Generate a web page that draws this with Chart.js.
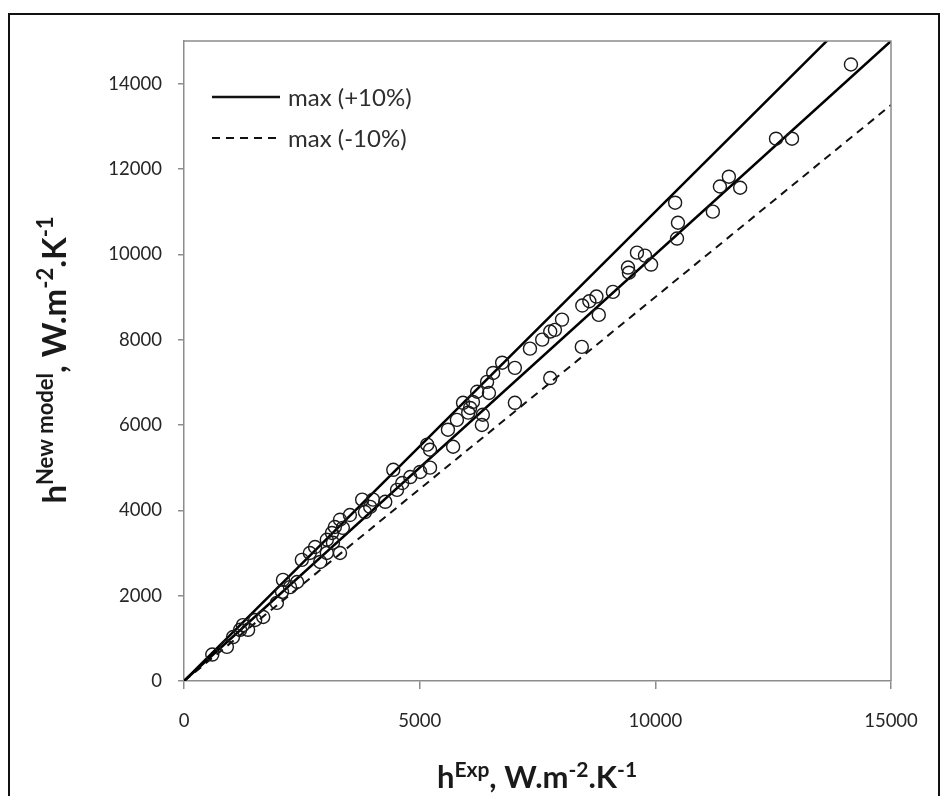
<!DOCTYPE html>
<html>
<head>
<meta charset="utf-8">
<script src="https://cdn.jsdelivr.net/npm/chart.js@4.4.1/dist/chart.umd.min.js"></script>
<style>
  html, body { margin: 0; padding: 0; background: #fff; overflow: hidden; }
  .wrap { position: relative; width: 945px; height: 796px; }
  .frame { position: absolute; left: 8px; top: 13px; width: 932px; height: 800px; border: 2.5px solid #111; box-sizing: border-box; }
  #myChart { position: absolute; left: 0; top: 0; }
</style>
</head>
<body>
<div class="wrap">
  <div class="frame"></div>
  <canvas id="myChart" width="945" height="796"></canvas>
</div>
<script>
// measured vs predicted heat transfer coefficient
const expX = [14150, 12560, 12900, 11560, 11370, 11800, 10420, 11220, 10480, 10460,
  9610, 9780, 9910, 9420, 9440, 9100, 8750, 8600, 8450, 8800,
  8440, 8020, 7870, 7770, 7600, 7340, 7020, 6750, 6560, 7770,
  6430, 6470, 6220, 6130, 7020, 6070, 5920, 6340, 6320, 6030,
  5790, 5600, 5710, 5160, 5220, 5220, 5010, 4440, 4800, 4630,
  4520, 3780, 4010, 4270, 3950, 3840, 3520, 3310, 3200, 3370,
  3140, 3030, 3160, 2780, 3310, 2670, 2500, 3030, 2890, 2100,
  2400, 2250, 2080, 1970, 1680, 1510, 1250, 1190, 1360, 1040,
  910, 600];
const modelY = [14450, 12710, 12710, 11820, 11590, 11560, 11210, 11000, 10740, 10370,
  10040, 9970, 9760, 9690, 9570, 9120, 9010, 8900, 8800, 8580,
  7830, 8470, 8230, 8190, 8000, 7790, 7340, 7460, 7220, 7100,
  7010, 6750, 6780, 6540, 6520, 6400, 6520, 6240, 6000, 6290,
  6120, 5890, 5490, 5540, 5420, 5000, 4900, 4950, 4780, 4640,
  4480, 4250, 4250, 4200, 4080, 3960, 3890, 3780, 3610, 3590,
  3470, 3310, 3240, 3140, 3000, 3000, 2840, 3000, 2790, 2370,
  2320, 2200, 2090, 1830, 1500, 1430, 1310, 1200, 1200, 1030,
  800, 620];

// reference lines: y = x, +10 % and -10 %
const refX = [0, 15000];
const equalY = [0, 15000];
const upperY = [0, 16500];
const lowerY = [0, 13500];

const xTicks = [0, 5000, 10000, 15000];
const yTicks = [0, 2000, 4000, 6000, 8000, 10000, 12000, 14000];

const legendItems = ['max (+10%)', 'max (-10%)'];

const axisGray = '#8c8c8c';
const toXY = (xs, ys) => xs.map((x, i) => ({ x: x, y: ys[i] }));

Chart.defaults.font.family = 'Lato, "Open Sans", sans-serif';

// text with superscripts, parts = [text, isSup]
function drawRich(ctx, parts, cx, cy, rotated, size, supSize, raise) {
  const mainFont = 'bold ' + size + 'px Lato';
  const supFont = 'bold ' + supSize + 'px Lato';
  let total = 0;
  parts.forEach(p => { ctx.font = p[1] ? supFont : mainFont; total += ctx.measureText(p[0]).width; });
  ctx.save();
  ctx.translate(cx, cy);
  if (rotated) ctx.rotate(-Math.PI / 2);
  ctx.fillStyle = '#1a1a1a';
  ctx.textBaseline = 'alphabetic';
  ctx.textAlign = 'left';
  let x = -total / 2;
  parts.forEach(p => {
    ctx.font = p[1] ? supFont : mainFont;
    ctx.fillText(p[0], x, p[1] ? -raise : 0);
    x += ctx.measureText(p[0]).width;
  });
  ctx.restore();
}

const extras = {
  id: 'extras',
  afterDraw(chart) {
    const ctx = chart.ctx;
    const a = chart.chartArea;
    // top and right edges of the plot box
    ctx.save();
    ctx.strokeStyle = axisGray;
    ctx.lineWidth = 1.5;
    ctx.beginPath();
    ctx.moveTo(a.left, a.top);
    ctx.lineTo(a.right, a.top);
    ctx.lineTo(a.right, a.bottom);
    ctx.stroke();
    ctx.restore();

    // legend
    ctx.save();
    ctx.strokeStyle = '#111';
    ctx.fillStyle = '#2e2e2e';
    ctx.font = '24px Lato';
    ctx.textBaseline = 'middle';
    const rows = [97, 138];
    rows.forEach((yy, i) => {
      ctx.lineWidth = i === 0 ? 2.5 : 2;
      ctx.setLineDash(i === 0 ? [] : [8, 6]);
      ctx.beginPath();
      ctx.moveTo(212, yy);
      ctx.lineTo(280, yy);
      ctx.stroke();
      ctx.fillText(legendItems[i], 288, yy + 1);
    });
    ctx.restore();

    // axis titles
    drawRich(ctx, [['h', false], ['Exp', true], [', W.m', false], ['-2', true], ['.K', false], ['-1', true]], 537, 788, false, 31, 21, 11);
    drawRich(ctx, [['h', false], ['New model', true], [', W.m', false], ['-2', true], ['.K', false], ['-1', true]], 66, 360, true, 33, 22, 13);
  }
};

const ctx = document.getElementById('myChart').getContext('2d');
new Chart(ctx, {
  type: 'scatter',
  data: {
    datasets: [
      {
        label: 'data',
        data: toXY(expX, modelY),
        pointStyle: 'circle',
        pointRadius: 6.5,
        pointHoverRadius: 6.5,
        borderWidth: 1.4,
        borderColor: '#1a1a1a',
        backgroundColor: 'rgba(0,0,0,0)'
      },
      {
        label: 'y = x',
        type: 'line',
        data: toXY(refX, equalY),
        borderColor: '#000',
        borderWidth: 2.5,
        pointRadius: 0
      },
      {
        label: legendItems[0],
        type: 'line',
        data: toXY(refX, upperY),
        borderColor: '#000',
        borderWidth: 2.5,
        pointRadius: 0
      },
      {
        label: legendItems[1],
        type: 'line',
        data: toXY(refX, lowerY),
        borderColor: '#111',
        borderWidth: 2,
        borderDash: [8, 6],
        pointRadius: 0
      }
    ]
  },
  options: {
    responsive: false,
    animation: false,
    devicePixelRatio: 1,
    layout: { padding: { top: 41, right: 54, left: 0, bottom: 0 } },
    plugins: {
      legend: { display: false },
      tooltip: { enabled: false }
    },
    scales: {
      x: {
        type: 'linear',
        min: 0,
        max: 15000,
        afterBuildTicks: s => { s.ticks = xTicks.map(v => ({ value: v })); },
        afterFit: s => { s.height = 115; },
        grid: { drawOnChartArea: false, drawTicks: true, tickLength: 8, color: axisGray, lineWidth: 1.5 },
        border: { display: true, color: axisGray, width: 1.5 },
        ticks: { padding: 21, color: '#262626', font: { size: 18.5 }, callback: v => String(v) }
      },
      y: {
        type: 'linear',
        min: 0,
        max: 15000,
        afterBuildTicks: s => { s.ticks = yTicks.map(v => ({ value: v })); },
        afterFit: s => { s.width = 184; },
        grid: { drawOnChartArea: false, drawTicks: true, tickLength: 6, color: axisGray, lineWidth: 1.5 },
        border: { display: true, color: axisGray, width: 1.5 },
        ticks: { padding: 16, color: '#262626', font: { size: 18.5 }, callback: v => String(v) }
      }
    }
  },
  plugins: [extras]
});
</script>
</body>
</html>
